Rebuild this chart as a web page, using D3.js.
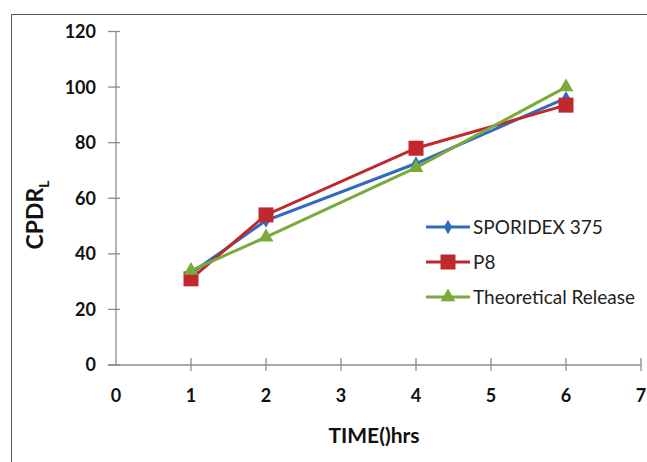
<!DOCTYPE html>
<html><head><meta charset="utf-8">
<script src="https://cdn.jsdelivr.net/npm/d3@7"></script>
<style>body{margin:0;background:#fff}svg{display:block}</style>
</head><body><svg id="c" width="647" height="462"></svg>
<script>
const times = [1, 2, 4, 6];
const sporidex = [33, 52, 72.5, 96];
const p8 = [31, 54, 78, 93.5];
const theoretical = [34, 46, 71, 100];
const seriesNames = ["SPORIDEX 375", "P8", "Theoretical Release"];
const seriesColors = ["#2f6bc0", "#c0282d", "#7aab3a"];
const xTicks = [0, 1, 2, 3, 4, 5, 6, 7];
const yTicks = [0, 20, 40, 60, 80, 100, 120];

const svg = d3.select("#c");
const font = "Lato, 'Open Sans', sans-serif";
svg.append("path").attr("d", "M11.5,462 V14.5 H647").attr("fill", "none").attr("stroke", "#555").attr("stroke-width", 1);

const x = d3.scaleLinear().domain([0, 7]).range([116, 641]);
const y = d3.scaleLinear().domain([0, 120]).range([365, 31.5]);
const axisCol = "#8c8c8c";

const gy = svg.append("g").attr("transform", "translate(116,0)");
gy.append("line").attr("x1", 0).attr("x2", 0).attr("y1", y(120)).attr("y2", y(0)).attr("stroke", axisCol).attr("stroke-width", 1.3);
yTicks.forEach(v => {
  gy.append("line").attr("x1", -8).attr("x2", 4).attr("y1", y(v)).attr("y2", y(v)).attr("stroke", axisCol).attr("stroke-width", 1.3);
  gy.append("text").attr("x", -20).attr("y", y(v)).attr("dy", "0.36em").attr("text-anchor", "end")
    .attr("font-family", font).attr("font-weight", "bold").attr("font-size", 18).attr("fill", "#111").text(v);
});
const gx = svg.append("g");
gx.append("line").attr("x1", x(0) - 8).attr("x2", x(7)).attr("y1", y(0)).attr("y2", y(0)).attr("stroke", axisCol).attr("stroke-width", 1.3);
xTicks.forEach(v => {
  if (v > 0) gx.append("line").attr("x1", x(v)).attr("x2", x(v)).attr("y1", y(0) - 7).attr("y2", y(0) + 6).attr("stroke", axisCol).attr("stroke-width", 1.3);
  gx.append("text").attr("x", x(v)).attr("y", 402).attr("text-anchor", "middle")
    .attr("font-family", font).attr("font-weight", "bold").attr("font-size", 18).attr("fill", "#111").text(v);
});

svg.append("text").attr("x", 374).attr("y", 443).attr("text-anchor", "middle")
  .attr("font-family", font).attr("font-weight", "bold").attr("font-size", 21).attr("fill", "#111").text("TIME()hrs");
const yt = svg.append("text").attr("transform", "translate(43,215) rotate(-90)").attr("text-anchor", "middle")
  .attr("font-family", font).attr("font-weight", "bold").attr("font-size", 23).attr("fill", "#111");
yt.append("tspan").text("CPDR");
yt.append("tspan").attr("font-size", 14).attr("dy", 6).text("L");

const data = [sporidex, p8, theoretical];
const line = d3.line().x(d => x(d[0])).y(d => y(d[1]));

function marker(g, i, cx, cy) {
  const c = seriesColors[i];
  if (i === 0) g.append("path").attr("d", d3.symbol(d3.symbolDiamond, 60)()).attr("transform", `translate(${cx},${cy})`).attr("fill", c);
  else if (i === 1) g.append("rect").attr("x", cx - 7.5).attr("y", cy - 7.5).attr("width", 15).attr("height", 15).attr("fill", c);
  else g.append("path").attr("d", d3.symbol(d3.symbolTriangle, 95)()).attr("transform", `translate(${cx},${cy})`).attr("fill", c);
}

data.forEach((vals, i) => {
  const pts = times.map((t, k) => [t, vals[k]]);
  const g = svg.append("g");
  g.append("path").attr("d", line(pts)).attr("fill", "none").attr("stroke", seriesColors[i]).attr("stroke-width", 3);
  pts.forEach(p => marker(g, i, x(p[0]), y(p[1])));
});

const legY = [227, 262, 297];
seriesNames.forEach((n, i) => {
  const g = svg.append("g");
  g.append("line").attr("x1", 426).attr("x2", 470).attr("y1", legY[i]).attr("y2", legY[i]).attr("stroke", seriesColors[i]).attr("stroke-width", 3);
  marker(g, i, 448, legY[i]);
  g.append("text").attr("x", 473).attr("y", legY[i]).attr("dy", "0.36em")
    .attr("font-family", font).attr("font-size", 19).attr("fill", "#222").text(n);
});
</script></body></html>
